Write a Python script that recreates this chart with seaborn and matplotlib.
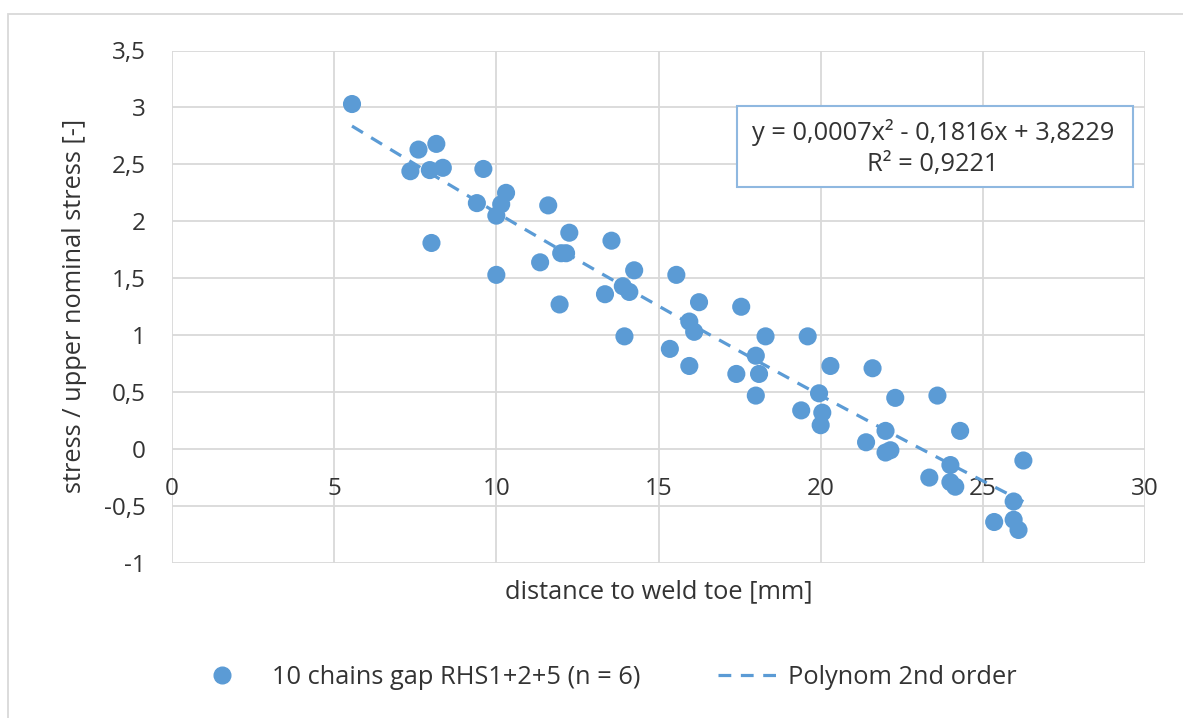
import numpy as np
import pandas as pd
import matplotlib
matplotlib.use("Agg")
import matplotlib.pyplot as plt
from matplotlib.ticker import FuncFormatter, MultipleLocator
from matplotlib.lines import Line2D
from matplotlib.patches import Rectangle
import seaborn as sns

# ---- data ----
distance = [5.55, 7.6, 8.15, 7.35, 7.95, 8.35, 9.6, 10.3, 10.15, 9.4, 10.0, 11.6,
            8.0, 12.25, 12.0, 12.15, 11.35, 10.0, 11.95, 13.35, 13.9, 14.1, 14.25,
            13.55, 15.55, 16.25, 17.55, 13.95, 15.95, 16.1, 18.3, 19.6, 15.35,
            15.95, 18.0, 18.1, 17.4, 18.0, 19.4, 19.95, 20.3, 21.6, 20.05, 20.0,
            22.3, 23.6, 24.3, 22.0, 21.4, 22.0, 22.15, 24.0, 23.35, 24.0, 24.15,
            26.25, 25.95, 25.35, 25.95, 26.1]
stress = [3.03, 2.63, 2.68, 2.44, 2.45, 2.47, 2.46, 2.25, 2.15, 2.16, 2.05, 2.14,
          1.81, 1.90, 1.72, 1.72, 1.64, 1.53, 1.27, 1.36, 1.43, 1.38, 1.57,
          1.83, 1.53, 1.29, 1.25, 0.99, 1.12, 1.03, 0.99, 0.99, 0.88,
          0.73, 0.82, 0.66, 0.66, 0.47, 0.34, 0.49, 0.73, 0.71, 0.32, 0.21,
          0.45, 0.47, 0.16, 0.16, 0.06, -0.03, -0.01, -0.14, -0.25, -0.29, -0.33,
          -0.10, -0.46, -0.64, -0.62, -0.71]
poly_coeffs = [0.0007, -0.1816, 3.8229]   # a2, a1, a0
r_squared = 0.9221
x_ticks = [0, 5, 10, 15, 20, 25, 30]
y_ticks = [-1, -0.5, 0, 0.5, 1, 1.5, 2, 2.5, 3, 3.5]
series_label = "10 chains gap RHS1+2+5 (n = 6)"
trend_label = "Polynom 2nd order"
x_title = "distance to weld toe [mm]"
y_title = "stress / upper nominal stress [-]"

df = pd.DataFrame({"distance": distance, "stress": stress})
xfit = np.linspace(min(distance), max(distance), 200)
yfit = np.polyval(poly_coeffs, xfit)
fit_df = pd.DataFrame({"distance": xfit, "stress": yfit})

BLUE = "#5B9BD5"
TXT = "#333333"
GRID = "#D9D9D9"
FS = 17.5
FS_TXT = 18.3
EM = FS_TXT * 100 / 72  # px

sns.set_theme(style="white")
plt.rcParams["font.family"] = ["Open Sans", "DejaVu Sans"]

W, H = 1183, 718
fig = plt.figure(figsize=(W / 100, H / 100), dpi=100)
ax = fig.add_axes([172 / W, 1 - 563 / H, (1145 - 172) / W, (563 - 50.5) / H])

# outer chart border
fig.patches.append(Rectangle((8 / W, -0.1), 1.2, 1 - 14 / H + 0.1, transform=fig.transFigure,
                             fill=False, edgecolor="#D9D9D9", lw=1.3, zorder=0))

sns.scatterplot(data=df, x="distance", y="stress", ax=ax, color=BLUE, s=170,
                edgecolor="none", linewidth=0, zorder=3, legend=False)
ax.plot(fit_df["distance"], fit_df["stress"], color=BLUE, lw=2.3,
        dashes=(4, 3), zorder=2)

ax.set_xlim(x_ticks[0], x_ticks[-1])
ax.set_ylim(y_ticks[0], y_ticks[-1])
ax.xaxis.set_major_locator(MultipleLocator(5))
ax.yaxis.set_major_locator(MultipleLocator(0.5))
fmt = FuncFormatter(lambda v, p: (("%g" % v).replace(".", ",")))
ax.xaxis.set_major_formatter(fmt)
ax.yaxis.set_major_formatter(fmt)
ax.grid(True, color=GRID, lw=1.3)
ax.set_axisbelow(True)
for s in ["top", "right", "left"]:
    ax.spines[s].set_visible(False)
ax.spines["bottom"].set_position(("data", 0))
ax.spines["bottom"].set_color("none")
ax.tick_params(axis="both", length=0, labelsize=FS, labelcolor=TXT)
ax.tick_params(axis="x", pad=20)
ax.tick_params(axis="y", pad=19)
ax.set_xlabel("")
ax.set_ylabel("")

fig.text(659 / W, 1 - 592 / H, x_title, ha="center", va="center", fontsize=FS_TXT, color=TXT)
fig.text(75 / W, 1 - 306 / H, y_title, ha="center", va="center", rotation=90,
         fontsize=FS_TXT, color=TXT)

# equation box
a2, a1, a0 = poly_coeffs
eq = "y = {}x² - {}x + {}\nR² = {}".format(
    ("%.4f" % a2).replace(".", ","), ("%.4f" % abs(a1)).replace(".", ","),
    ("%.4f" % a0).replace(".", ","), ("%.4f" % r_squared).replace(".", ","))
fig.patches.append(Rectangle((737 / W, 1 - 187 / H), (1133 - 737) / W, (187 - 106) / H,
                             transform=fig.transFigure, facecolor="white",
                             edgecolor="#8FB8E0", lw=1.5, zorder=5))
fig.text(933 / W, 1 - 148 / H, eq, ha="center", va="center", fontsize=FS_TXT,
         color=TXT, linespacing=1.35, zorder=6)

h1 = Line2D([], [], marker="o", ls="none", color=BLUE, markersize=12)
h2 = Line2D([], [], color=BLUE, lw=2.3, dashes=(4, 3))
leg1 = fig.legend([h1], [series_label], loc="center left",
                  bbox_to_anchor=(212 / W, 1 - 677 / H), frameon=False,
                  fontsize=FS_TXT, labelcolor=TXT, handlelength=20 / EM,
                  handletextpad=(272 - 212 - 20) / EM,
                  borderpad=0, borderaxespad=0)
leg2 = fig.legend([h2], [trend_label], loc="center left",
                  bbox_to_anchor=(718 / W, 1 - 677 / H), frameon=False,
                  fontsize=FS_TXT, labelcolor=TXT, handlelength=67 / EM,
                  handletextpad=3 / EM, borderpad=0, borderaxespad=0)

fig.savefig("out.png", dpi=100, facecolor="white")
